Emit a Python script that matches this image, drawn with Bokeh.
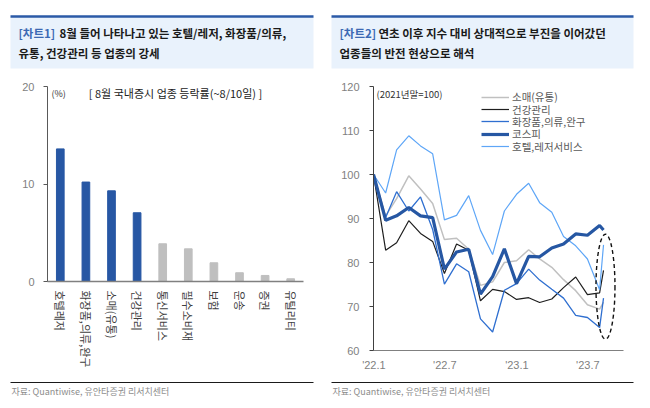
import pandas as pd
from bokeh.plotting import figure
from bokeh.layouts import row, column
from bokeh.models import (Range1d, FactorRange, FixedTicker, Label, Legend, LegendItem,
                          CustomJSTickFormatter, ColumnDataSource)
from bokeh.core.properties import value
from bokeh.embed import file_html
from bokeh.resources import INLINE

FONT = "Noto Sans CJK KR"
NUM_FONT = "Liberation Sans"

# ---------------- data: chart 1 (August sector returns, %) ----------------
sectors = ["호텔레저", "화장품,의류,완구", "소매(유통)", "건강관리", "통신서비스",
           "필수소비재", "보험", "운송", "증권", "유틸리티"]
returns_pct = [13.6, 10.2, 9.3, 7.05, 3.87, 3.35, 1.92, 0.9, 0.62, 0.28]
highlighted = ["호텔레저", "화장품,의류,완구", "소매(유통)", "건강관리"]
bar_ticks = [0, 10, 20]

# ---------------- data: chart 2 (index, end-2021 = 100) ----------------
dates = ["2021-12-31", "2022-01-31", "2022-02-28", "2022-03-31", "2022-04-30",
         "2022-05-31", "2022-06-30", "2022-07-31", "2022-08-31", "2022-09-30",
         "2022-10-31", "2022-11-30", "2022-12-31", "2023-01-31", "2023-02-28",
         "2023-03-31", "2023-04-30", "2023-05-31", "2023-06-30", "2023-07-31",
         "2023-08-10"]
retail = [100, 90.6, 94.5, 99.7, 96.7, 93.4, 85.2, 85.5, 83.0, 74.8, 75.6,
          80.0, 80.4, 82.9, 80.8, 78.9, 76.1, 73.6, 70.4, 69.4, 71.0]
health = [100, 82.8, 84.5, 89.5, 86.6, 84.8, 77.5, 84.2, 82.8, 71.3, 73.9,
          73.4, 71.6, 72.0, 70.9, 71.7, 74.3, 76.7, 72.7, 73.1, 78.2]
cosmetics = [100, 90.2, 96.1, 91.7, 94.9, 87.5, 75.1, 79.7, 77.9, 67.2, 64.2,
             73.7, 75.2, 78.5, 76.0, 73.9, 71.9, 68.0, 67.5, 65.2, 71.9]
kospi = [100, 89.6, 90.6, 92.5, 90.6, 90.2, 78.5, 82.4, 83.0, 72.8, 76.8,
         83.1, 75.2, 81.4, 81.3, 83.3, 84.2, 86.5, 86.2, 88.4, 87.4]
hotel = [100, 95.8, 105.6, 108.8, 106.5, 104.7, 89.7, 90.7, 95.2, 87.3, 81.8,
         91.7, 95.5, 98.0, 93.6, 91.4, 85.9, 83.8, 80.8, 73.8, 84.0]
series_names = ["소매(유통)", "건강관리", "화장품,의류,완구", "코스피", "호텔,레저서비스"]
date_ticks = ["2022-01-01", "2022-07-01", "2023-01-01", "2023-07-01"]
line_ticks = [60, 70, 80, 90, 100, 110, 120]

# ---------------- colours ----------------
BAR_BLUE = "#2757a4"
BAR_GRAY = "#bfbfbf"
HEAD_BG = "#e9f2fc"
HEAD_LINE = "#2b5aa7"
TAG_BLUE = "#3b69b3"
C_RETAIL = "#c0c0c0"
C_HEALTH = "#1e1e1e"
C_COSM = "#2f6fd0"
C_KOSPI = "#2657a3"
C_HOTEL = "#5ea6f7"


def blank_fig(w, h):
    f = figure(width=w, height=h, x_range=Range1d(0, w), y_range=Range1d(h, 0),
               x_axis_location=None, y_axis_location=None,
               min_border_left=0, min_border_right=0, min_border_top=0, min_border_bottom=0,
               toolbar_location=None, output_backend="svg")
    f.outline_line_color = None
    f.grid.visible = False
    return f


def header_fig(tag, line1, line2, box_left, box_right, text_x, line1_x):
    h = blank_fig(325, 72)
    h.quad(left=[box_left], right=[box_right], top=[16], bottom=[68],
           fill_color=HEAD_BG, line_color=None)
    h.segment(x0=[box_left], x1=[box_right], y0=[16], y1=[16],
              line_color=HEAD_LINE, line_width=2.5)
    common = dict(text_font=value(FONT), text_font_size="11.5px",
                  text_font_style="bold", text_baseline="middle", text_align="left")
    h.text(x=[text_x], y=[32], text=[tag], text_color=TAG_BLUE, **common)
    h.text(x=[line1_x], y=[32], text=[line1], text_color="#1a1a1a", **common)
    h.text(x=[text_x], y=[52], text=[line2], text_color="#1a1a1a", **common)
    return h


def footer_fig(line_left, line_right, text_x):
    f = blank_fig(325, 28)
    f.segment(x0=[line_left], x1=[line_right], y0=[2], y1=[2],
              line_color="#1a1a1a", line_width=1)
    f.text(x=[text_x], y=[11], text=["자료: Quantiwise, 유안타증권 리서치센터"],
           text_font=value(FONT), text_font_size="9px", text_color="#8c8c8c",
           text_baseline="middle", text_align="left")
    return f


# ---------------- chart 1: bars ----------------
p1 = figure(width=325, height=308, x_range=FactorRange(*sectors), y_range=Range1d(0, 20),
            output_backend="svg", toolbar_location=None,
            min_border_left=47, min_border_right=22, min_border_top=14, min_border_bottom=99)
bar_src = ColumnDataSource(dict(
    sector=sectors, ret=returns_pct,
    color=[BAR_BLUE if s in highlighted else BAR_GRAY for s in sectors]))
p1.vbar(x="sector", top="ret", width=0.3, color="color", source=bar_src)
p1.grid.visible = False
p1.outline_line_color = None
p1.xaxis.major_label_orientation = "vertical"
p1.xaxis.major_tick_line_color = None
p1.xaxis.minor_tick_line_color = None
p1.xaxis.major_tick_out = 0
p1.xaxis.major_tick_in = 0
p1.xaxis.major_label_standoff = 9
p1.xaxis.axis_line_color = "#808080"
p1.xaxis.axis_line_width = 1.5
p1.xaxis.major_label_text_font = FONT
p1.xaxis.major_label_text_font_size = "11px"
p1.xaxis.major_label_text_color = "#404040"
p1.yaxis.ticker = FixedTicker(ticks=bar_ticks)
p1.yaxis.minor_tick_line_color = None
p1.yaxis.major_tick_in = 0
p1.yaxis.major_tick_out = 4
p1.yaxis.major_label_standoff = 9
p1.yaxis.axis_line_color = "#595959"
p1.yaxis.major_tick_line_color = "#595959"
p1.yaxis.major_label_text_font = NUM_FONT
p1.yaxis.major_label_text_font_size = "11px"
p1.yaxis.major_label_text_color = "#7f7f7f"
p1.add_layout(Label(x=0, y=19.3, x_offset=4, text="(%)", text_font=FONT,
                    text_font_size="9px", text_color="#333333", text_baseline="middle"))
p1.add_layout(Label(x=len(sectors) / 2, y=19.3, text="[ 8월 국내증시 업종 등락률(~8/10일) ]",
                    text_font=FONT, text_font_size="11px", text_color="#222222",
                    text_align="center", text_baseline="middle"))

# ---------------- chart 2: lines ----------------
x_start = pd.Timestamp("2021-12-31")
x_end = pd.Timestamp("2023-09-30")
p2 = figure(width=325, height=308, x_axis_type="datetime",
            x_range=Range1d(x_start, x_end), y_range=Range1d(60, 120),
            output_backend="svg", toolbar_location=None,
            min_border_left=48, min_border_right=27, min_border_top=14, min_border_bottom=30)
src = ColumnDataSource(dict(date=pd.to_datetime(dates), retail=retail, health=health,
                            cosmetics=cosmetics, kospi=kospi, hotel=hotel))
r_retail = p2.line("date", "retail", source=src, line_color=C_RETAIL, line_width=1.5)
r_health = p2.line("date", "health", source=src, line_color=C_HEALTH, line_width=1.2)
r_cosm = p2.line("date", "cosmetics", source=src, line_color=C_COSM, line_width=1.3)
r_hotel = p2.line("date", "hotel", source=src, line_color=C_HOTEL, line_width=1.2)
r_kospi = p2.line("date", "kospi", source=src, line_color=C_KOSPI, line_width=3.2)

# dashed highlight around the latest observation
hl = ColumnDataSource(dict(x=pd.to_datetime(["2023-08-15"]), y=[74.5]))
p2.ellipse(x="x", y="y", width=19, height=105, width_units="screen", height_units="screen",
           source=hl, fill_color=None, line_color="#111111", line_width=1.4, line_dash="4 3")

p2.grid.visible = False
p2.outline_line_color = None
p2.xaxis.ticker = FixedTicker(ticks=[pd.Timestamp(d).timestamp() * 1000 for d in date_ticks])
p2.xaxis.formatter = CustomJSTickFormatter(code="""
const d = new Date(tick);
return "'" + String(d.getUTCFullYear()).slice(2) + "." + (d.getUTCMonth() + 1);
""")
p2.xaxis.major_tick_line_color = None
p2.xaxis.minor_tick_line_color = None
p2.xaxis.major_tick_out = 0
p2.xaxis.major_tick_in = 0
p2.xaxis.major_label_standoff = 8
p2.xaxis.axis_line_color = "#808080"
p2.xaxis.major_label_text_font = NUM_FONT
p2.xaxis.major_label_text_font_size = "11px"
p2.xaxis.major_label_text_color = "#7f7f7f"
p2.yaxis.ticker = FixedTicker(ticks=line_ticks)
p2.yaxis.minor_tick_line_color = None
p2.yaxis.major_tick_in = 0
p2.yaxis.major_tick_out = 4
p2.yaxis.major_label_standoff = 10
p2.yaxis.axis_line_color = "#404040"
p2.yaxis.major_tick_line_color = "#404040"
p2.yaxis.major_label_text_font = NUM_FONT
p2.yaxis.major_label_text_font_size = "11px"
p2.yaxis.major_label_text_color = "#7f7f7f"

p2.add_layout(Label(x=x_start.timestamp() * 1000, y=118.4, x_offset=3, text="(2021년말=100)",
                    text_font=FONT, text_font_size="9.5px", text_color="#333333",
                    text_baseline="middle"))

# one single-entry legend per series, stacked with a fixed row pitch
FRAME_H = 308 - 14 - 30
ROW_H = 18
for k, (name, rend) in enumerate(zip(series_names,
                                     [r_retail, r_health, r_cosm, r_kospi, r_hotel])):
    row_center_from_top = 10.8 + 12.3 * k
    leg = Legend(items=[LegendItem(label=name, renderers=[rend])],
                 location=(108, FRAME_H - row_center_from_top - ROW_H / 2),
                 orientation="vertical", margin=0, padding=0, spacing=0,
                 glyph_width=28, glyph_height=ROW_H, label_height=ROW_H, label_standoff=3,
                 label_text_font=FONT, label_text_font_size="10.5px",
                 label_text_color="#595959", border_line_color=None,
                 background_fill_alpha=0)
    p2.add_layout(leg)

# ---------------- headers & footers ----------------
h1 = header_fig("[차트1]", "8월 들어 나타나고 있는 호텔/레저, 화장품/의류,",
                "유통, 건강관리 등 업종의 강세", 10, 313, 18, 59)
h2 = header_fig("[차트2]", "연초 이후 지수 대비 상대적으로 부진을 이어갔던",
                "업종들의 반전 현상으로 해석", 6, 308, 14, 53)
f1 = footer_fig(10, 313, 11)
f2 = footer_fig(6, 308, 7)

left_panel = column(row(h1), row(p1), row(f1))
right_panel = column(row(h2), row(p2), row(f2))
root = row(left_panel, right_panel)
open("out.html", "w").write(file_html(root, INLINE))
